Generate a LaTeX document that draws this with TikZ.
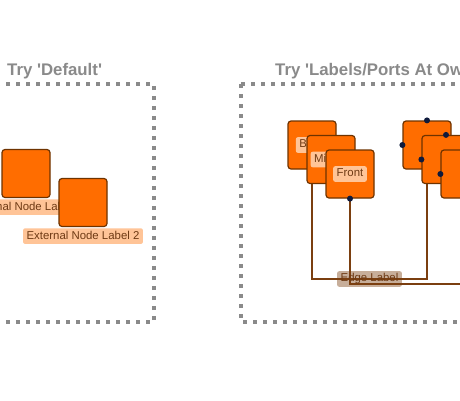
\documentclass[tikz,border=0pt]{standalone}
\usepackage{fontspec}
\setmainfont{Liberation Sans}
\usetikzlibrary{positioning,calc}

\definecolor{nodeorange}{HTML}{FF6D00}
\definecolor{nodeline}{HTML}{6E3300}
\definecolor{labfill}{HTML}{FFC497}
\definecolor{labtext}{HTML}{6E3A14}
\definecolor{edgebrown}{HTML}{7B3F10}
\definecolor{portblue}{HTML}{0E1A3D}
\definecolor{framegray}{HTML}{8A8A8A}

\begin{document}
\begin{tikzpicture}[x=1pt,y=-1pt,
  every node/.append style={inner sep=0pt},
  box/.style={draw=nodeline,fill=nodeorange,rounded corners=3pt,minimum size=48pt,line width=1.2pt},
  lab/.style={fill=labfill,rounded corners=2pt,text=labtext,font=\fontsize{11.4}{11.4}\selectfont,
    text height=8.2pt,text depth=2.4pt,inner xsep=3.5pt,inner ysep=2.5pt},
  edgelab/.style={lab,fill=edgebrown,fill opacity=0.42,text opacity=1},
  frame/.style={draw=framegray,line width=3.5pt,dash pattern=on 4pt off 6pt},
  title/.style={anchor=base west,text=framegray,font=\fontsize{16.8}{16.8}\selectfont\bfseries},
  link/.style={draw=edgebrown,line width=1.3pt},
  port/.style={fill=portblue}]
\useasboundingbox[fill=white] (0,0) rectangle (460,400);

% panel 'Default'
\node[title] (t1) at (7,75) {Try \textquotesingle Default\textquotesingle};
\draw[frame] (-46,84) rectangle (154,322);
\node[box] (n1) at (26,173.5) {};
\node[lab,below=1pt of n1] (l1) {External Node Label 1};
\node[box] (n2) at (83,202.5) {};
\node[lab,below=1pt of n2] (l2) {External Node Label 2};

% panel 'Labels/Ports At Own Layer'
\node[title] (t2) at (275,75) {Try \textquotesingle Labels/Ports At Own Layer\textquotesingle};
\draw[frame] (241,84) rectangle (560,322);
\coordinate (e1) at (0,279);
\coordinate (away) at (560,284);
\node[box] (bA) at (312,145) {};
\node[lab] at (bA) {Back};
\node[box] (bB) at (427,145) {};
\draw[link] (bA.south) |- (bB.south |- e1) -- (bB.south);
\node[box] (mA) at (331,159.5) {};
\node[lab] at (mA) {Middle};
\node[box] (mB) at (446,159.5) {};
\node[box] (fA) at (350,174) {};
\node[lab] at (fA) {Front};
\node[box] (fB) at (465,174) {};
\draw[link] (fA.south) |- (away);
\node[edgelab] (el) at ($(bA.south |- e1)!0.5!(bB.south |- e1)$) {Edge Label};
\foreach \p in {bB.north,bB.west,mB.north,mB.west,fB.west,fA.south}
  \fill[port] (\p) circle (3pt);
\end{tikzpicture}
\end{document}
